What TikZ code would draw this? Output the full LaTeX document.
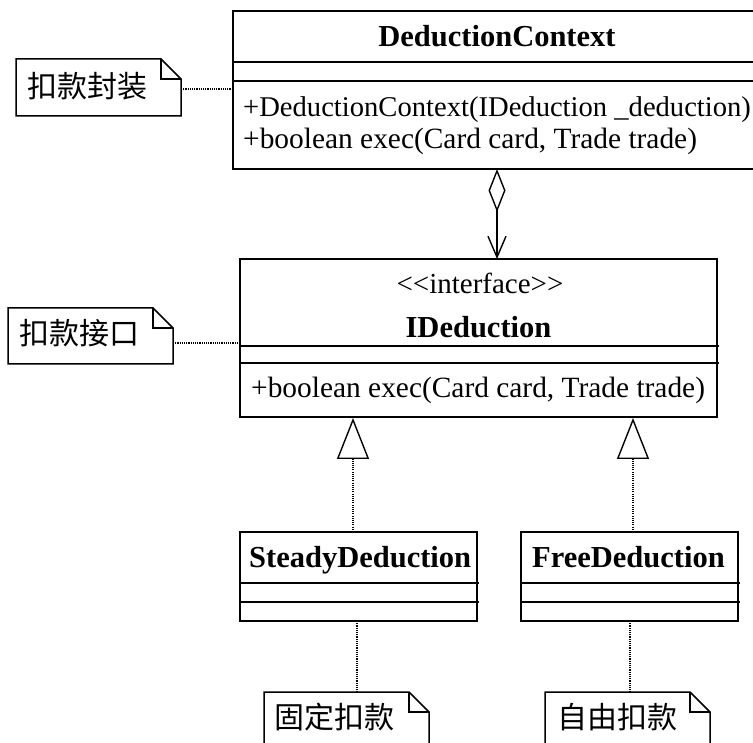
\documentclass[tikz,border=0pt]{standalone}
\usepackage{fontspec}
\setmainfont{Liberation Serif}
\newfontfamily\cjk{Noto Sans CJK SC}
\usetikzlibrary{arrows.meta}
\begin{document}
\begin{tikzpicture}[x=1pt,y=1pt,
  box/.style={draw,line width=1.5pt,rectangle,inner sep=0,outer sep=0},
  sepline/.style={line width=1.5pt},
  notebox/.style={draw,line width=1.5pt,line join=miter},
  reg/.style={font=\fontsize{29.4}{31}\selectfont,inner sep=0,anchor=base west},
  stereo/.style={font=\fontsize{29}{31}\selectfont,inner sep=0,anchor=base},
  ttl/.style={font=\bfseries\fontsize{30.5}{32}\selectfont,inner sep=0},
  cjktxt/.style={font=\cjk\fontsize{30}{32}\selectfont,inner sep=0,anchor=west},
  dotline/.style={line width=1.1pt,dash pattern=on 1.1pt off 1.1pt},
  realize/.style={dotline,-{Triangle[open,length=41pt,width=32pt,line width=1.4pt]}},
  aggr/.style={line width=1.3pt,{Diamond[open,length=43pt,width=17pt,line width=1.4pt]}-{Straight Barb[length=21pt,width=18pt,line width=1.4pt]}}
]
\useasboundingbox (0,0) rectangle (753,-743);
\clip (0,0) rectangle (753,-743);

% ---------- DeductionContext ----------
\node[box,minimum width=528pt,minimum height=158pt] (dc) at (497,-90) {};
\draw[sepline] (233,-62) -- (761,-62);
\draw[sepline] (233,-81) -- (761,-81);
\node[ttl,anchor=base] (dct) at (497,-47) {DeductionContext};
\node[reg,font=\fontsize{28.6}{31}\selectfont] (dcm1) at (243,-117) {+DeductionContext(IDeduction \_deduction)};
\node[reg] (dcm2) at (243,-149) {+boolean exec(Card card, Trade trade)};

% ---------- IDeduction ----------
\node[box,minimum width=477pt,minimum height=158pt] (ide) at (478.5,-338) {};
\draw[sepline] (240,-346) -- (719,-346);
\draw[sepline] (240,-363) -- (719,-363);
\node[stereo] (ides) at (480,-294) {<{}<interface>{}>};
\node[ttl,anchor=base] (idet) at (478.5,-338) {IDeduction};
\node[reg] (idem) at (251,-398) {+boolean exec(Card card, Trade trade)};

% ---------- SteadyDeduction ----------
\node[box,minimum width=237pt,minimum height=89pt] (sd) at (358.5,-576.5) {};
\draw[sepline] (240,-583) -- (479,-583);
\draw[sepline] (240,-602) -- (479,-602);
\node[ttl,anchor=base west] (sdt) at (249,-567) {SteadyDeduction};

% ---------- FreeDeduction ----------
\node[box,minimum width=217pt,minimum height=89pt] (fd) at (629.5,-576.5) {};
\draw[sepline] (521,-583) -- (740,-583);
\draw[sepline] (521,-602) -- (740,-602);
\node[ttl,anchor=base west] (fdt) at (532,-567) {FreeDeduction};

% ---------- notes ----------
\draw[notebox] (16,-59) -- (161,-59) -- (181,-79) -- (181,-116) -- (16,-116) -- cycle;
\draw[notebox] (161,-59) -- (161,-79) -- (181,-79);
\node[cjktxt] (n1) at (27,-86) {扣款封装};
\coordinate (n1e) at (181,-89);

\draw[notebox] (8,-308) -- (153,-308) -- (173,-328) -- (173,-364) -- (8,-364) -- cycle;
\draw[notebox] (153,-308) -- (153,-328) -- (173,-328);
\node[cjktxt] (n2) at (19,-333) {扣款接口};
\coordinate (n2e) at (173,-343);

\draw[notebox] (264,-692) -- (409,-692) -- (429,-712) -- (429,-770) -- (264,-770) -- cycle;
\draw[notebox] (409,-692) -- (409,-712) -- (429,-712);
\node[cjktxt] (n3) at (274,-717) {固定扣款};
\coordinate (n3n) at (357,-692);

\draw[notebox] (545,-692) -- (690,-692) -- (710,-712) -- (710,-770) -- (545,-770) -- cycle;
\draw[notebox] (690,-692) -- (690,-712) -- (710,-712);
\node[cjktxt] (n4) at (557,-717) {自由扣款};
\coordinate (n4n) at (630,-692);

% ---------- connectors ----------
\draw[dotline] (n1e) -- (n1e -| dc.west);
\draw[dotline] (n2e) -- (n2e -| ide.west);
\coordinate (ideb1) at (353,-418);
\coordinate (ideb2) at (633,-418);
\draw[realize] (ideb1 |- sd.north) -- (ideb1);
\draw[realize] (ideb2 |- fd.north) -- (ideb2);
\draw[dotline] (n3n |- sd.south) -- (n3n);
\draw[dotline] (n4n |- fd.south) -- (n4n);
\coordinate (agg) at (497,0);
\draw[aggr] (agg |- dc.south) -- (agg |- ide.north);
\end{tikzpicture}
\end{document}
